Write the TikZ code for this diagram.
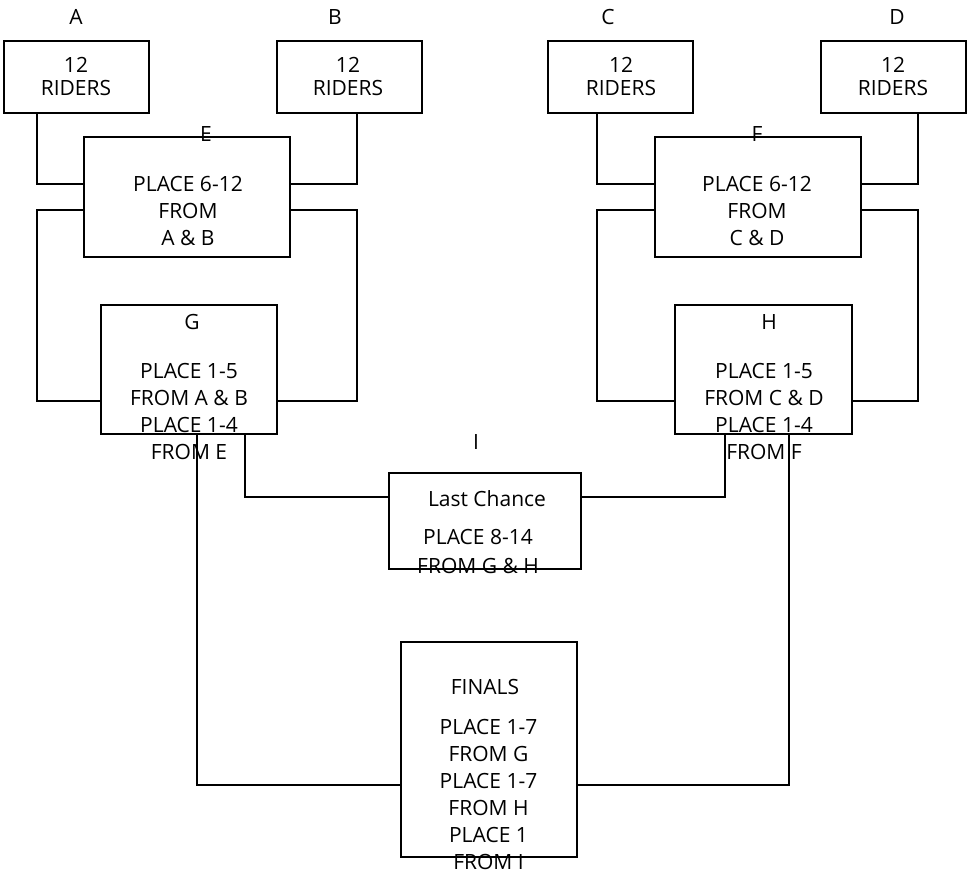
\documentclass[tikz,border=0pt]{standalone}
\usepackage{fontspec}
\setmainfont{Open Sans}
\begin{document}
\tikzset{
  box/.style 2 args={draw, line width=1.6pt, rectangle, inner sep=0pt, minimum width=#1, minimum height=#2},
  wire/.style={line width=1.6pt},
  txt/.style={font=\fontsize{21}{27}\selectfont, align=center, inner sep=0pt},
  ridertxt/.style={font=\fontsize{21}{23}\selectfont, align=center, inner sep=0pt},
  lctxt/.style={font=\fontsize{21}{29}\selectfont, align=center, inner sep=0pt}
}
\begin{tikzpicture}[x=1pt,y=-1pt]
\useasboundingbox (0,0) rectangle (971,873);
% boxes
\node[box={145}{72}] (A) at (76.5,77) {};
\node[box={145}{72}] (B) at (349.5,77) {};
\node[box={145}{72}] (C) at (620.5,77) {};
\node[box={145}{72}] (D) at (893.5,77) {};
\node[box={206}{120}] (E) at (187,197) {};
\node[box={206}{120}] (F) at (758,197) {};
\node[box={176}{129}] (G) at (189,369.5) {};
\node[box={177}{129}] (H) at (763.5,369.5) {};
\node[box={192}{96}] (I) at (485,521) {};
\node[box={176}{215}] (Fin) at (489,749.5) {};
% helper coordinates
\coordinate (xa) at (37,0);
\coordinate (xb) at (357,0);
\coordinate (xc) at (597,0);
\coordinate (xd) at (918,0);
\coordinate (xg1) at (197,0);
\coordinate (xg2) at (245,0);
\coordinate (xh1) at (725,0);
\coordinate (xh2) at (789,0);
\coordinate (ya) at (0,184);
\coordinate (yb) at (0,210);
\coordinate (yc) at (0,401);
\coordinate (yd) at (0,497);
\coordinate (ye) at (0,785);
% connectors
\draw[wire] (A.south -| xa) |- (E.west |- ya);
\draw[wire] (B.south -| xb) |- (E.east |- ya);
\draw[wire] (E.west |- yb) -| (xa |- yc) -- (G.west |- yc);
\draw[wire] (E.east |- yb) -| (xb |- yc) -- (G.east |- yc);
\draw[wire] (C.south -| xc) |- (F.west |- ya);
\draw[wire] (D.south -| xd) |- (F.east |- ya);
\draw[wire] (F.west |- yb) -| (xc |- yc) -- (H.west |- yc);
\draw[wire] (F.east |- yb) -| (xd |- yc) -- (H.east |- yc);
\draw[wire] (G.south -| xg2) |- (I.west |- yd);
\draw[wire] (H.south -| xh1) |- (I.east |- yd);
\draw[wire] (G.south -| xg1) |- (Fin.west |- ye);
\draw[wire] (H.south -| xh2) |- (Fin.east |- ye);
% texts
\node[txt] (lA) at (76,17) {A};
\node[txt] (lB) at (335,17) {B};
\node[txt] (lC) at (608,17) {C};
\node[txt] (lD) at (897,17) {D};
\node[ridertxt] (tA) at (76,76.5) {12\\RIDERS};
\node[ridertxt] (tB) at (348,76.5) {12\\RIDERS};
\node[ridertxt] (tC) at (621,76.5) {12\\RIDERS};
\node[ridertxt] (tD) at (893,76.5) {12\\RIDERS};
\node[txt] (lE) at (206,134) {E};
\node[txt] (tE) at (188,210.5) {PLACE 6-12\\FROM\\A \& B};
\node[txt] (lF) at (757,134) {F};
\node[txt] (tF) at (757,210.5) {PLACE 6-12\\FROM\\C \& D};
\node[txt] (lG) at (192,322) {G};
\node[txt] (tG) at (189,411.5) {PLACE 1-5\\FROM A \& B\\PLACE 1-4\\FROM E};
\node[txt] (lH) at (769,322) {H};
\node[txt] (tH) at (764,411.5) {PLACE 1-5\\FROM C \& D\\PLACE 1-4\\FROM F};
\node[txt] (lI) at (476,442) {I};
\node[txt] (lc) at (487,499) {Last Chance};
\node[lctxt] (tI) at (478,551.5) {PLACE 8-14\\FROM G \& H};
\node[txt] (lFin) at (485,687) {FINALS};
\node[txt] (tFin) at (488.5,794.5) {PLACE 1-7\\FROM G\\PLACE 1-7\\FROM H\\PLACE 1\\FROM I};
\end{tikzpicture}
\end{document}
